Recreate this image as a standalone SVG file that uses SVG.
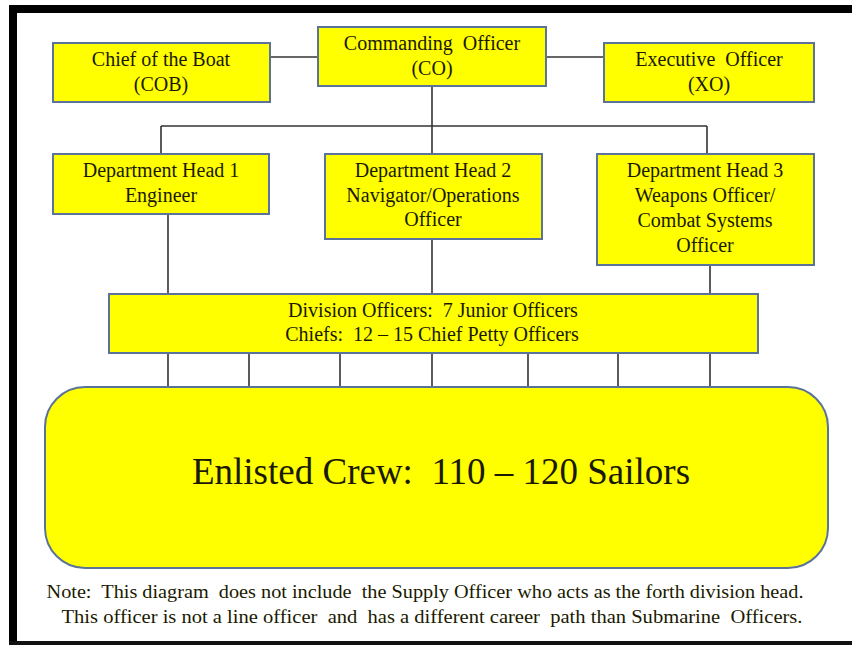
<svg xmlns="http://www.w3.org/2000/svg" width="852" height="645" viewBox="0 0 852 645">
<style>
.box{fill:#FFFF00;stroke:#5B739A;stroke-width:2}
.t{font-family:"Liberation Serif","Times New Roman",serif;font-size:20px;fill:#1a1a00;text-anchor:middle;white-space:pre}
.big{font-size:37px}
.note{font-size:19px}
.c{stroke:#333;stroke-width:1.6;fill:none}
</style>
<rect x="0" y="0" width="852" height="645" fill="#fff"/>
<g id="frame">
<rect x="9" y="5" width="843" height="8" fill="#000"/>
<rect x="9" y="5" width="8" height="640" fill="#000"/>
<rect x="9" y="641" width="843" height="4" fill="#111"/>
</g>
<g id="connectors" class="c">
<line x1="270" y1="57" x2="318" y2="57"/>
<line x1="546" y1="57" x2="604" y2="57"/>
<line x1="432" y1="86" x2="432" y2="126"/>
<line x1="161" y1="126" x2="707" y2="126"/>
<line x1="161" y1="126" x2="161" y2="154"/>
<line x1="432" y1="126" x2="432" y2="154"/>
<line x1="707" y1="126" x2="707" y2="154"/>
<line x1="168" y1="214" x2="168" y2="294"/>
<line x1="432" y1="239" x2="432" y2="294"/>
<line x1="710" y1="265" x2="710" y2="294"/>
<line x1="168" y1="353" x2="168" y2="388"/>
<line x1="249" y1="353" x2="249" y2="388"/>
<line x1="340" y1="353" x2="340" y2="388"/>
<line x1="432" y1="353" x2="432" y2="388"/>
<line x1="528" y1="353" x2="528" y2="388"/>
<line x1="618" y1="353" x2="618" y2="388"/>
<line x1="710" y1="353" x2="710" y2="388"/>
</g>
<g id="cob">
<rect class="box" x="53" y="43" width="217" height="59"/>
<text class="t" x="161" y="66">Chief of the Boat</text>
<text class="t" x="161" y="91">(COB)</text>
</g>
<g id="co">
<rect class="box" x="318" y="27" width="228" height="59"/>
<text class="t" x="432" y="50">Commanding  Officer</text>
<text class="t" x="432" y="75">(CO)</text>
</g>
<g id="xo">
<rect class="box" x="604" y="43" width="210" height="59"/>
<text class="t" x="709" y="66">Executive  Officer</text>
<text class="t" x="709" y="91">(XO)</text>
</g>
<g id="dh1">
<rect class="box" x="53" y="154" width="216" height="60"/>
<text class="t" x="161" y="177">Department Head 1</text>
<text class="t" x="161" y="202">Engineer</text>
</g>
<g id="dh2">
<rect class="box" x="325" y="154" width="217" height="85"/>
<text class="t" x="433" y="177">Department Head 2</text>
<text class="t" x="433" y="202">Navigator/Operations</text>
<text class="t" x="433" y="226">Officer</text>
</g>
<g id="dh3">
<rect class="box" x="597" y="154" width="217" height="111"/>
<text class="t" x="705" y="177">Department Head 3</text>
<text class="t" x="705" y="202">Weapons Officer/</text>
<text class="t" x="705" y="227">Combat Systems</text>
<text class="t" x="705" y="252">Officer</text>
</g>
<g id="division">
<rect class="box" x="109" y="294" width="649" height="59"/>
<text class="t" x="433" y="317">Division Officers:  7 Junior Officers</text>
<text class="t" x="432" y="341">Chiefs:  12 – 15 Chief Petty Officers</text>
</g>
<g id="crew">
<rect class="box" x="45" y="387" width="783" height="181" rx="40" ry="40"/>
<text class="t big" x="441" y="484">Enlisted Crew:  110 – 120 Sailors</text>
</g>
<g id="note">
<text class="t note" x="425" y="598" textLength="757" lengthAdjust="spacingAndGlyphs">Note:  This diagram  does not include  the Supply Officer who acts as the forth division head.</text>
<text class="t note" x="432" y="623" textLength="741" lengthAdjust="spacingAndGlyphs">This officer is not a line officer  and  has a different career  path than Submarine  Officers.</text>
</g>
</svg>
